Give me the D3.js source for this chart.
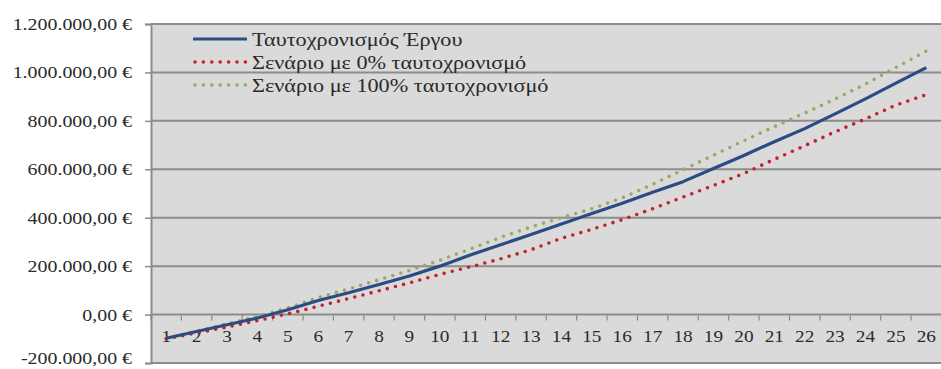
<!DOCTYPE html>
<html>
<head>
<meta charset="utf-8">
<script src="https://cdn.jsdelivr.net/npm/d3@7"></script>
<style>
  html, body { margin: 0; padding: 0; background: #ffffff; }
  svg { display: block; }
  text { font-family: "Liberation Serif", "DejaVu Serif", serif; fill: #2a2a2a; }
</style>
</head>
<body>
<svg id="chart" width="941" height="369"></svg>
<script>
// Periods (years) on the category axis
const periods = d3.range(1, 27).map(String);

// Cumulative value per period, in euros
const projectSchedule = [
  -98000, -70000, -42000, -14000, 20000, 58000, 90000, 124000, 159000, 200000,
  246000, 288000, 331000, 374000, 417000, 460000, 505000, 549000, 603000, 657000,
  714000, 768000, 829000, 891000, 956000, 1020000
];
const scenario0 = [
  -100000, -76000, -52000, -25000, 3000, 34000, 66000, 98000, 131000, 166000,
  197000, 230000, 268000, 315000, 352000, 392000, 437000, 485000, 533000, 583000,
  641000, 697000, 755000, 808000, 865000, 908000
];
const scenario100 = [
  -98000, -68000, -38000, -8000, 28000, 70000, 106000, 144000, 182000, 224000,
  271000, 319000, 362000, 400000, 437000, 482000, 538000, 598000, 658000, 718000,
  776000, 832000, 890000, 952000, 1020000, 1088000
];

const seriesNames = [
  "Ταυτοχρονισμός Έργου",
  "Σενάριο με 0% ταυτοχρονισμό",
  "Σενάριο με 100% ταυτοχρονισμό"
];

const yTicks = [-200000, 0, 200000, 400000, 600000, 800000, 1000000, 1200000];

const euro = d3.formatLocale({
  decimal: ",", thousands: ".", grouping: [3], currency: ["", " €"], minus: "-"
}).format("$,.2f");

const svg = d3.select("#chart");
const plot = { left: 151, right: 941.5, top: 24, bottom: 363 };
const widen = 1.17; // horizontal stretch of the text glyphs

const x = d3.scaleBand().domain(periods).range([plot.left, plot.right]);
const y = d3.scaleLinear().domain([-200000, 1200000]).range([plot.bottom, plot.top]);

// plot area background
svg.append("rect")
  .attr("x", plot.left).attr("y", plot.top)
  .attr("width", plot.right - plot.left).attr("height", plot.bottom - plot.top)
  .attr("fill", "#dadada");

// horizontal gridlines
svg.append("g").selectAll("line").data(yTicks).join("line")
  .attr("x1", plot.left).attr("x2", plot.right)
  .attr("y1", d => y(d)).attr("y2", d => y(d))
  .attr("stroke", "#8c8c8c").attr("stroke-width", 2);

// value axis
const yAxis = svg.append("g")
  .attr("transform", `translate(${plot.left},0)`)
  .call(d3.axisLeft(y).tickValues(yTicks).tickFormat(euro).tickSize(6).tickPadding(13));
yAxis.select(".domain").attr("stroke", "#8c8c8c").attr("stroke-width", 2);
yAxis.selectAll(".tick line").attr("stroke", "#8c8c8c").attr("stroke-width", 1.5);
yAxis.selectAll(".tick text")
  .attr("font-family", "Liberation Serif").attr("font-size", 17).attr("fill", "#2a2a2a")
  .attr("x", 0)
  .attr("transform", d => `translate(-19,${d === -200000 ? -4.5 : 0}) scale(${widen},1)`);

// category axis, drawn on the zero line with ticks between categories
const catGroup = svg.append("g").attr("transform", `translate(0,${y(0)})`);
const bounds = periods.map(p => x(p)).concat([plot.right]);
catGroup.selectAll("line.cat-tick").data(bounds).join("line")
  .attr("class", "cat-tick")
  .attr("x1", d => d).attr("x2", d => d)
  .attr("y1", 0).attr("y2", 6)
  .attr("stroke", "#8c8c8c").attr("stroke-width", 1.2);
catGroup.selectAll("text").data(periods).join("text")
  .attr("transform", d => `translate(${x(d) + x.bandwidth() / 2},27) scale(${widen},1)`)
  .attr("text-anchor", "middle")
  .attr("font-size", 16.5)
  .text(d => d);

// series lines
const line = d3.line()
  .x((d, i) => x(periods[i]) + x.bandwidth() / 2)
  .y(d => y(d));

const series = [
  { values: scenario100, color: "#9aa964", dotted: true },
  { values: scenario0, color: "#c3202e", dotted: true },
  { values: projectSchedule, color: "#2c4a83", dotted: false }
];

series.forEach(s => {
  const p = svg.append("path")
    .datum(s.values)
    .attr("d", line)
    .attr("fill", "none")
    .attr("stroke", s.color);
  if (s.dotted) {
    p.attr("stroke-width", 3.6)
      .attr("stroke-linecap", "round")
      .attr("stroke-dasharray", "0 8.4");
  } else {
    p.attr("stroke-width", 3.2).attr("stroke-linejoin", "round");
  }
});

// legend
const legendItems = [
  { name: seriesNames[0], color: "#2c4a83", dotted: false },
  { name: seriesNames[1], color: "#c3202e", dotted: true },
  { name: seriesNames[2], color: "#9aa964", dotted: true }
];
const legend = svg.append("g").attr("transform", "translate(193,39)");
legendItems.forEach((item, i) => {
  const row = legend.append("g").attr("transform", `translate(0,${i * 23})`);
  const l = row.append("line")
    .attr("x1", 0).attr("x2", 54).attr("y1", 0).attr("y2", 0)
    .attr("stroke", item.color);
  if (item.dotted) {
    l.attr("x1", 2).attr("stroke-width", 3.6).attr("stroke-linecap", "round").attr("stroke-dasharray", "0 8.4");
  } else {
    l.attr("stroke-width", 3.2);
  }
  row.append("text")
    .attr("transform", `translate(59,6.5) scale(${widen},1)`)
    .attr("font-size", 19)
    .text(item.name);
});
</script>
</body>
</html>
